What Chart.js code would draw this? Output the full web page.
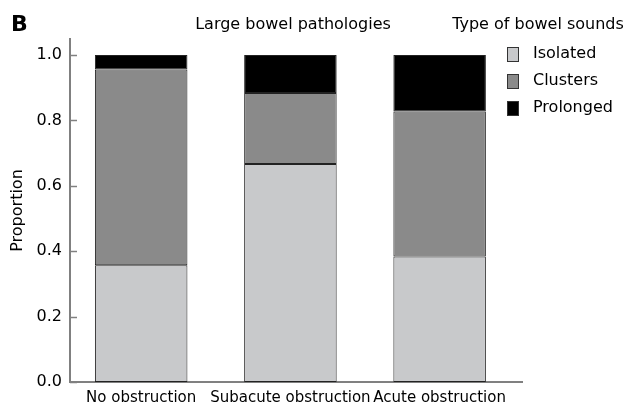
<!DOCTYPE html>
<html>
<head>
<meta charset="utf-8">
<script src="https://cdn.jsdelivr.net/npm/chart.js@4/dist/chart.umd.min.js"></script>
<style>
  html, body { margin: 0; padding: 0; background: #fff; }
  #wrap { width: 627px; height: 410px; position: relative; }
</style>
</head>
<body>
<div id="wrap"><canvas id="c" width="627" height="410"></canvas></div>
<script>
// Large bowel pathologies: proportion of each bowel sound type
const categories = ['No obstruction', 'Subacute obstruction', 'Acute obstruction'];
const seriesNames = ['Isolated', 'Clusters', 'Prolonged'];
const isolated  = [0.357, 0.667, 0.384];
const clusters  = [0.599, 0.217, 0.443];
const prolonged = [0.044, 0.116, 0.173];
const yTicks = [0.0, 0.2, 0.4, 0.6, 0.8, 1.0];

const FONT = 'DejaVu Sans';
const colors = ['#c8c9cb', '#8a8a8a', '#000000'];
const seriesValues = [isolated, clusters, prolonged];

const datasets = seriesNames.map((name, i) => ({
  label: name,
  data: seriesValues[i].map((v, k) => ({ x: k, y: v })),
  backgroundColor: colors[i],
  borderColor: '#222',
  borderWidth: 1,
  borderSkipped: false,
  barPercentage: 0.62,
  categoryPercentage: 1.0
}));

// Text, legend and inward tick marks
const decor = {
  id: 'decor',
  afterDraw(chart) {
    const ctx = chart.ctx;
    const y = chart.scales.y;
    const area = chart.chartArea;
    ctx.save();
    // inward tick marks on the y axis
    ctx.strokeStyle = '#808080';
    ctx.lineWidth = 1.5;
    yTicks.forEach(t => {
      const py = Math.round(y.getPixelForValue(t)) + 0.5;
      ctx.beginPath();
      ctx.moveTo(area.left, py);
      ctx.lineTo(area.left + 7, py);
      ctx.stroke();
    });
    // panel letter
    ctx.fillStyle = '#000';
    ctx.font = 'bold 22px ' + FONT;
    ctx.textAlign = 'left';
    ctx.textBaseline = 'middle';
    ctx.fillText('B', 11, 25);
    // chart title
    ctx.font = '16px ' + FONT;
    ctx.textAlign = 'center';
    ctx.fillText('Large bowel pathologies', 293, 25);
    // legend title
    ctx.fillText('Type of bowel sounds', 538, 25);
    // legend entries
    ctx.textAlign = 'left';
    chart.data.datasets.forEach((ds, i) => {
      const cy = 54 + i * 27;
      ctx.fillStyle = ds.backgroundColor;
      ctx.fillRect(507, cy - 7, 12, 15);
      ctx.strokeStyle = '#333';
      ctx.lineWidth = 1;
      ctx.strokeRect(507.5, cy - 6.5, 11, 14);
      ctx.fillStyle = '#000';
      ctx.fillText(ds.label, 533, cy);
    });
    ctx.restore();
  }
};

new Chart(document.getElementById('c'), {
  type: 'bar',
  data: { datasets },
  options: {
    responsive: false,
    animation: false,
    devicePixelRatio: 1,
    layout: { padding: { top: 39, right: 105, left: 0, bottom: 0 } },
    plugins: { legend: { display: false }, title: { display: false }, tooltip: { enabled: false } },
    scales: {
      x: {
        type: 'linear',
        stacked: true,
        offset: false,
        min: -0.477,
        max: 2.552,
        afterBuildTicks(s) { s.ticks = categories.map((_, k) => ({ value: k })); },
        afterFit(s) { s.height = 28; },
        ticks: {
          autoSkip: false,
          maxRotation: 0,
          padding: 7,
          color: '#000',
          font: { family: FONT, size: 15 },
          callback: (v) => categories[v]
        },
        grid: { display: false, drawTicks: false },
        border: { color: '#808080', width: 2 }
      },
      y: {
        stacked: true,
        min: 0,
        max: 1.049,
        afterBuildTicks(s) { s.ticks = yTicks.map(v => ({ value: v })); },
        afterFit(s) { s.width = 70; },
        ticks: {
          padding: 8,
          color: '#000',
          font: { family: FONT, size: 16 },
          callback: (v) => v.toFixed(1)
        },
        grid: { display: false, drawTicks: false },
        border: { color: '#808080', width: 2 },
        title: {
          display: true,
          text: 'Proportion',
          color: '#000',
          font: { family: FONT, size: 16 },
          padding: { top: 8, bottom: 0 }
        }
      }
    }
  },
  plugins: [decor]
});
</script>
</body>
</html>
